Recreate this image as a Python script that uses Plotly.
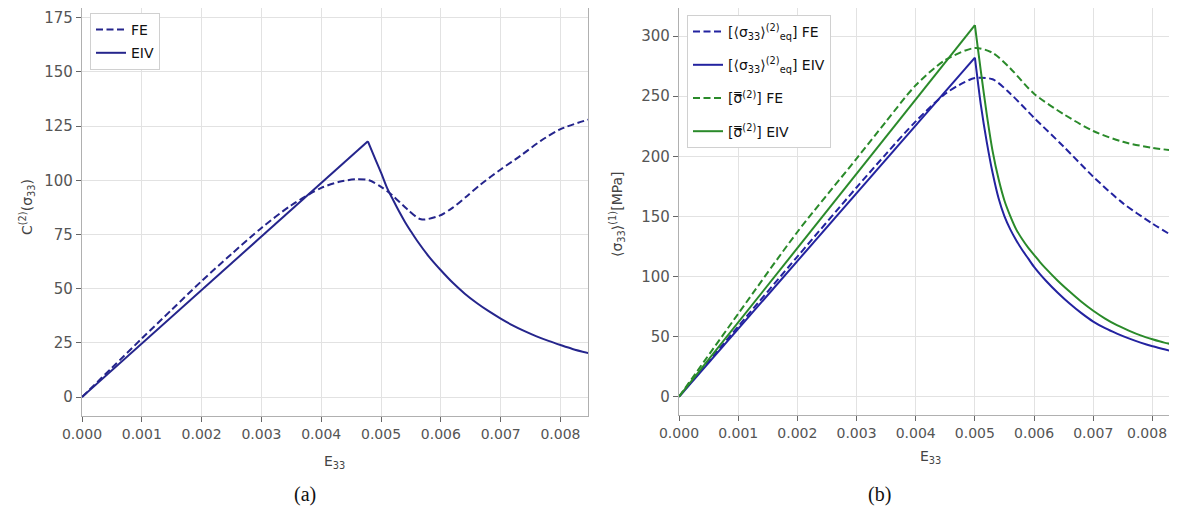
import plotly.graph_objects as go

# ---------------- data ----------------
# panel (a)
e_a_fe = [0, 0.0005, 0.001, 0.0015, 0.002, 0.0025, 0.003, 0.0035, 0.004, 0.0043, 0.0046, 0.0048,
          0.005, 0.0052, 0.00544, 0.00567, 0.00597, 0.0062, 0.00644, 0.00667, 0.007, 0.00733,
          0.00767, 0.008, 0.0085]
c_a_fe = [0, 13.5, 27, 40.3, 53.5, 66, 78, 88.5, 96.5, 99.3, 100.5, 100,
          97, 92.8, 86.6, 82, 83.6, 87.4, 92.8, 98.2, 105, 111.3,
          118.2, 123.6, 128.3]

e_a_eiv = [0, 0.00478, 0.0049, 0.005, 0.0051, 0.0052, 0.0053, 0.0054, 0.0055, 0.0056, 0.0058,
           0.006, 0.0062, 0.0064, 0.0066, 0.0068, 0.007, 0.0072, 0.0074, 0.0076, 0.0078,
           0.008, 0.0082, 0.0085]
c_a_eiv = [0, 118, 110, 103.5, 96.5, 91, 85.7, 80.8, 76.4, 72.2, 64.8,
           58.5, 52.7, 47.7, 43.4, 39.6, 36.2, 33.1, 30.4, 28.0, 25.9,
           24.0, 22.2, 20.0]

# panel (b)
e_b_fe = [0, 0.001, 0.002, 0.003, 0.0035, 0.004, 0.0045, 0.0048, 0.005, 0.0053, 0.0056,
          0.006, 0.0065, 0.007, 0.0075, 0.008, 0.0084]
s_eq_fe = [0, 58.5, 116.5, 174, 202, 229, 252, 261, 265, 264, 252,
           232, 208, 183, 161, 144, 132]

e_b_gfe = [0, 0.001, 0.002, 0.003, 0.0035, 0.004, 0.0045, 0.005, 0.0053, 0.0056,
           0.006, 0.0065, 0.007, 0.0075, 0.008, 0.0084]
s_bar_fe = [0, 69, 137, 198, 229, 259, 280, 290, 286, 273,
            252, 235, 221, 212, 207, 204.5]

e_b_eiv = [0, 0.005, 0.00505, 0.0051, 0.0052, 0.0053, 0.0054, 0.0055, 0.0056, 0.0057, 0.0058,
           0.0059, 0.006, 0.0061, 0.0062, 0.0064, 0.0066, 0.0068, 0.007, 0.0072, 0.0074,
           0.0076, 0.0078, 0.008, 0.0082, 0.0084]
s_eq_eiv = [0, 282, 262, 243, 212, 186, 165, 150, 139, 130, 122,
            115, 108, 102, 96.5, 86.5, 77.5, 69.5, 62.5, 57, 52.5,
            48.5, 45, 42, 39.5, 37]
s_bar_eiv = [0, 309, 290, 271, 235, 204, 181, 163, 150, 139, 131,
             124, 118, 112, 106.5, 96.5, 87.5, 79, 71.5, 65, 59.5,
             55, 51, 47.8, 45, 43]

x_ticks = [0, 0.001, 0.002, 0.003, 0.004, 0.005, 0.006, 0.007, 0.008]
x_tick_labels = ["0.000", "0.001", "0.002", "0.003", "0.004", "0.005", "0.006", "0.007", "0.008"]
y_ticks_a = [0, 25, 50, 75, 100, 125, 150, 175]
y_ticks_b = [0, 50, 100, 150, 200, 250, 300]

# ---------------- styling ----------------
OFF = 8                       # page body margin of the written html
W, H = 1177 - 2 * OFF, 521 - 2 * OFF
NAVY = "#25258c"
BLUE = "#2323a0"
GREEN = "#2a8a2a"
DASH = "7px,3.5px"


def px(x):
    return (x - OFF) / W


def py(y):
    return 1 - (y - OFF) / H


fig = go.Figure()


def add_eiv(xs, ys, name, color, xa, ya, leg, group):
    # rising branch (straight) up to the peak, then the softening branch
    fig.add_trace(go.Scatter(x=xs[:2], y=ys[:2], mode="lines", name=name,
                             line=dict(color=color, width=2), legendgroup=group,
                             xaxis=xa, yaxis=ya, legend=leg))
    fig.add_trace(go.Scatter(x=xs[1:], y=ys[1:], mode="lines", name=name, showlegend=False,
                             line=dict(color=color, width=2, shape="spline", smoothing=0.8),
                             legendgroup=group, xaxis=xa, yaxis=ya, legend=leg))


fig.add_trace(go.Scatter(x=e_a_fe, y=c_a_fe, mode="lines", name="FE",
                         line=dict(color=NAVY, width=2, dash=DASH, shape="spline", smoothing=0.8),
                         xaxis="x", yaxis="y", legend="legend", legendgroup="a1"))
add_eiv(e_a_eiv, c_a_eiv, "EIV", NAVY, "x", "y", "legend", "a2")

fig.add_trace(go.Scatter(x=e_b_fe, y=s_eq_fe, mode="lines",
                         name="[⟨σ<sub>33</sub>⟩<sup>(2)</sup><sub>eq</sub>] FE",
                         line=dict(color=BLUE, width=2, dash=DASH, shape="spline", smoothing=0.8),
                         xaxis="x2", yaxis="y2", legend="legend2", legendgroup="b1"))
add_eiv(e_b_eiv, s_eq_eiv, "[⟨σ<sub>33</sub>⟩<sup>(2)</sup><sub>eq</sub>] EIV", BLUE,
        "x2", "y2", "legend2", "b2")
fig.add_trace(go.Scatter(x=e_b_gfe, y=s_bar_fe, mode="lines",
                         name="[σ\u033f<sup>(2)</sup>] FE",
                         line=dict(color=GREEN, width=2, dash=DASH, shape="spline", smoothing=0.8),
                         xaxis="x2", yaxis="y2", legend="legend2", legendgroup="b3"))
add_eiv(e_b_eiv, s_bar_eiv, "[σ\u033f<sup>(2)</sup>] EIV", GREEN, "x2", "y2", "legend2", "b4")

tickfont = dict(family="DejaVu Sans", size=14, color="#555555")
common = dict(showgrid=True, gridcolor="#e2e2e2", gridwidth=1, showline=True,
              linecolor="#b0b0b0", linewidth=1.2, ticks="outside", ticklen=5,
              tickcolor="#666666", tickwidth=1, zeroline=False, automargin=False)

# last tick label of panel (b) sits at the page edge: drawn as a right-aligned note
x2_tick_labels = x_tick_labels[:-1] + [""]

fig.update_layout(
    width=W, height=H, autosize=False,
    margin=dict(l=0, r=0, t=0, b=0, autoexpand=False),
    paper_bgcolor="white", plot_bgcolor="white",
    font=dict(family="DejaVu Sans", size=14, color="#333333"),
    xaxis=dict(domain=[px(82), px(588)], range=[0, 0.00846], tickvals=x_ticks,
               ticktext=x_tick_labels, anchor="y", tickfont=tickfont, **common),
    yaxis=dict(domain=[py(416), py(8)], range=[-8.75, 179.5], tickvals=y_ticks_a,
               anchor="x", mirror=True, tickfont=dict(tickfont, size=15), **common),
    xaxis2=dict(domain=[px(679), 1.0], range=[0, 0.00828], tickvals=x_ticks,
                ticktext=x2_tick_labels, anchor="y2", tickfont=tickfont, **common),
    yaxis2=dict(domain=[py(415.3), py(8)], range=[-15.45, 323.3], tickvals=y_ticks_b,
                anchor="x2", tickfont=dict(tickfont, size=15), **common),
    legend=dict(x=px(90), y=py(13), xanchor="left", yanchor="top",
                bgcolor="white", bordercolor="#d0d0d0", borderwidth=1, tracegroupgap=2,
                font=dict(family="DejaVu Sans", size=14, color="#111111")),
    legend2=dict(x=px(687), y=py(15), xanchor="left", yanchor="top",
                 bgcolor="white", bordercolor="#d0d0d0", borderwidth=1, tracegroupgap=12,
                 font=dict(family="DejaVu Sans", size=14, color="#111111")),
    showlegend=True,
)

fig.add_annotation(text=x_tick_labels[-1], x=1.0, y=py(433), xref="paper", yref="paper",
                   xanchor="right", yanchor="middle", showarrow=False, font=tickfont)

title_font = dict(family="DejaVu Sans", size=14, color="#444444")
annotations = [
    dict(text="C<sup>(2)</sup>(σ<sub>33</sub>)", x=px(27), y=py(207), textangle=-90),
    dict(text="⟨σ<sub>33</sub>⟩<sup>(1)</sup>[MPa]", x=px(617), y=py(214), textangle=-90),
    dict(text="E<sub>33</sub>", x=px(334), y=py(462)),
    dict(text="E<sub>33</sub>", x=px(930), y=py(457)),
]
for a in annotations:
    fig.add_annotation(xref="paper", yref="paper", showarrow=False,
                       xanchor="center", yanchor="middle", font=title_font, **a)

cap_font = dict(family="Liberation Serif", size=20, color="#111111")
fig.add_annotation(text="(a)", x=px(292), y=py(508), xref="paper", yref="paper",
                   showarrow=False, font=cap_font)
fig.add_annotation(text="(b)", x=px(893), y=py(508), xref="paper", yref="paper",
                   showarrow=False, font=cap_font)

fig.write_html("out.html")
